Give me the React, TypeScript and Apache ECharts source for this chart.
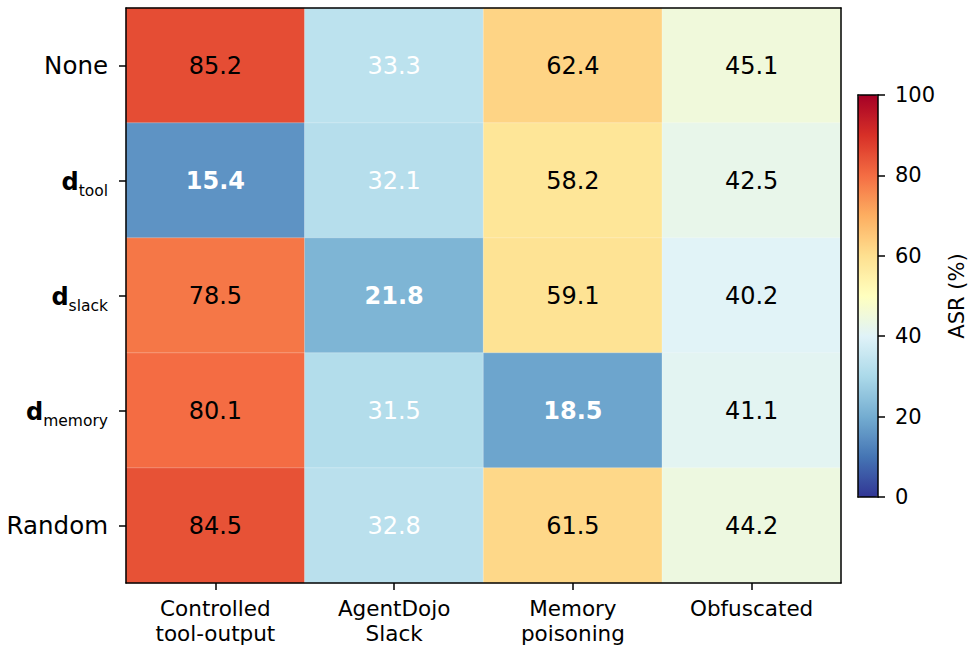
import React, { useEffect, useRef } from "react";
import * as echarts from "echarts";

const attacks = ["Controlled\ntool-output", "AgentDojo\nSlack", "Memory\npoisoning", "Obfuscated"];
const defenses = ["None", "d_tool", "d_slack", "d_memory", "Random"];
const rowNone = [85.2, 33.3, 62.4, 45.1];
const rowTool = [15.4, 32.1, 58.2, 42.5];
const rowSlack = [78.5, 21.8, 59.1, 40.2];
const rowMemory = [80.1, 31.5, 18.5, 41.1];
const rowRandom = [84.5, 32.8, 61.5, 44.2];
const asrRows = [rowNone, rowTool, rowSlack, rowMemory, rowRandom];
const colorbarTicks = [0, 20, 40, 60, 80, 100];

const rdylbuR = [
  "#313695", "#4575b4", "#74add1", "#abd9e9", "#e0f3f8", "#ffffbf",
  "#fee090", "#fdae61", "#f46d43", "#d73027", "#a50026",
];

const FONT = "DejaVu Sans";

export default function App() {
  const ref = useRef<HTMLDivElement>(null);
  useEffect(() => {
    document.body.style.margin = "0";
    const chart = echarts.init(ref.current!, null, { renderer: "svg" });
    const data: any[] = [];
    asrRows.forEach((row, r) => {
      row.forEach((v, c) => {
        const diag = defenses[r].startsWith("d_") && r - 1 === c;
        data.push({
          value: [c, r, v],
          label: {
            color: v < 35 ? "#ffffff" : "#000000",
            fontWeight: diag ? "bold" : "normal",
          },
        });
      });
    });
    const yLabel = (name: string) => {
      if (name.startsWith("d_")) return "{b|d}{s|" + name.slice(2) + "}";
      return "{n|" + name + "}";
    };
    const axisLineStyle = { color: "#000", width: 1.5 };
    chart.setOption({
      animation: false,
      textStyle: { fontFamily: FONT },
      grid: [
        { left: 126, top: 8, width: 715, height: 575 },
        { left: 858, top: 95, width: 20, height: 402 },
      ],
      xAxis: [
        {
          gridIndex: 0, type: "category", data: attacks, position: "bottom",
          axisLine: { show: true, onZero: false, lineStyle: axisLineStyle },
          axisTick: { show: true, alignWithLabel: true, length: 7, lineStyle: { color: "#000", width: 1.5 } },
          axisLabel: { fontSize: 21.5, color: "#000", lineHeight: 25, margin: 13, fontFamily: FONT },
          splitLine: { show: false }, z: 10,
        },
        {
          gridIndex: 0, type: "category", data: attacks, position: "top",
          axisLine: { show: true, onZero: false, lineStyle: axisLineStyle },
          axisTick: { show: false }, axisLabel: { show: false }, z: 10,
        },
        {
          gridIndex: 1, type: "value", min: 0, max: 1, position: "bottom",
          axisLine: { show: true, onZero: false, lineStyle: axisLineStyle },
          axisTick: { show: false }, axisLabel: { show: false }, splitLine: { show: false }, z: 10,
        },
        {
          gridIndex: 1, type: "value", min: 0, max: 1, position: "top",
          axisLine: { show: true, onZero: false, lineStyle: axisLineStyle },
          axisTick: { show: false }, axisLabel: { show: false }, splitLine: { show: false }, z: 10,
        },
      ],
      yAxis: [
        {
          gridIndex: 0, type: "category", data: defenses, inverse: true, position: "left",
          axisLine: { show: true, onZero: false, lineStyle: axisLineStyle },
          axisTick: { show: true, alignWithLabel: true, length: 7, lineStyle: { color: "#000", width: 1.5 } },
          axisLabel: {
            margin: 18, color: "#000",
            formatter: yLabel,
            rich: {
              n: { fontSize: 24.5, fontFamily: FONT, color: "#000" },
              b: { fontSize: 24, fontWeight: "bold", fontFamily: FONT, color: "#000", verticalAlign: "bottom", lineHeight: 26 },
              s: { fontSize: 15.5, fontFamily: FONT, color: "#000", verticalAlign: "bottom", lineHeight: 26, padding: [0, 0, -5, 0] },
            },
          },
          z: 10,
        },
        {
          gridIndex: 0, type: "category", data: defenses, inverse: true, position: "right",
          axisLine: { show: true, onZero: false, lineStyle: axisLineStyle },
          axisTick: { show: false }, axisLabel: { show: false }, z: 10,
        },
        {
          gridIndex: 1, type: "value", min: 0, max: 100, interval: 20, position: "right",
          axisLine: { show: true, onZero: false, lineStyle: axisLineStyle },
          axisTick: { show: true, length: 7, lineStyle: { color: "#000", width: 1.5 } },
          axisLabel: { fontSize: 21, color: "#000", margin: 17, fontFamily: FONT,
            formatter: (v: number) => (colorbarTicks.includes(v) ? String(v) : "") },
          splitLine: { show: false },
          name: "ASR (%)", nameLocation: "middle", nameGap: 68, nameRotate: 90,
          nameTextStyle: { fontSize: 21, color: "#000", fontFamily: FONT },
          z: 10,
        },
        {
          gridIndex: 1, type: "value", min: 0, max: 100, position: "left",
          axisLine: { show: true, onZero: false, lineStyle: axisLineStyle },
          axisTick: { show: false }, axisLabel: { show: false }, splitLine: { show: false }, z: 10,
        },
      ],
      visualMap: {
        type: "continuous", min: 0, max: 100, calculable: false, show: true,
        seriesIndex: 0, orient: "vertical", left: 858, top: 95,
        itemWidth: 20, itemHeight: 402, padding: 0, text: ["", ""], showLabel: false,
        inRange: { color: rdylbuR }, hoverLink: false,
      },
      series: [
        {
          type: "heatmap", xAxisIndex: 0, yAxisIndex: 0, data,
          itemStyle: { borderColor: "rgba(255,255,255,0.5)", borderWidth: 0.5 },
          label: { show: true, fontSize: 24, fontFamily: FONT, formatter: (p: any) => p.value[2].toFixed(1) },
        },
      ],
    });
    return () => chart.dispose();
  }, []);
  return <div ref={ref} style={{ width: 973, height: 648 }} />;
}
